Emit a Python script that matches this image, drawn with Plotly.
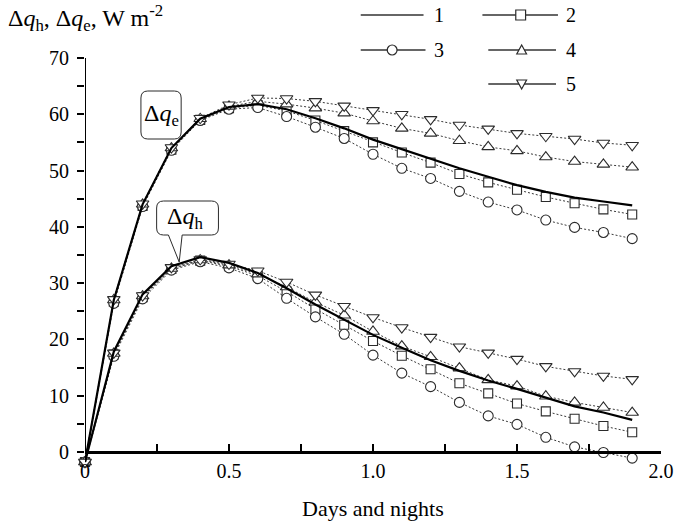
import plotly.graph_objects as go

# ---- data -------------------------------------------------------------
days = [0.0, 0.1, 0.2, 0.3, 0.4, 0.5, 0.6, 0.7, 0.8, 0.9,
        1.0, 1.1, 1.2, 1.3, 1.4, 1.5, 1.6, 1.7, 1.8, 1.9]

# latent heat flux increment, W m-2
qe_1 = [-1.8, 27.0, 44.0, 54.0, 59.2, 61.3, 61.8, 60.9, 59.3, 57.5,
        55.5, 53.8, 52.0, 50.4, 48.9, 47.4, 46.2, 45.2, 44.5, 43.8]
qe_2 = [-1.8, 26.7, 43.7, 53.7, 59.0, 61.1, 61.6, 60.6, 58.9, 57.0,
        55.0, 53.2, 51.4, 49.4, 47.9, 46.6, 45.3, 44.2, 43.1, 42.2]
qe_3 = [-1.8, 26.4, 43.6, 53.6, 58.9, 60.9, 61.2, 59.6, 57.7, 55.7,
        52.9, 50.4, 48.6, 46.3, 44.4, 43.0, 41.2, 39.9, 39.0, 37.9]
qe_4 = [-1.8, 27.0, 44.0, 54.0, 59.2, 61.4, 62.3, 61.8, 61.1, 60.2,
        58.8, 57.5, 56.6, 55.3, 54.2, 53.5, 52.4, 51.6, 51.1, 50.6]
qe_5 = [-1.8, 27.1, 44.1, 54.1, 59.3, 61.7, 62.9, 62.8, 62.3, 61.5,
        60.7, 60.0, 59.1, 58.1, 57.4, 56.6, 56.1, 55.6, 54.9, 54.5]

# sensible heat flux increment, W m-2
qh_1 = [-1.8, 17.8, 28.0, 33.0, 34.6, 33.6, 31.8, 29.1, 26.2, 23.5,
        20.8, 18.5, 16.3, 14.4, 12.7, 11.2, 9.6, 8.1, 7.0, 5.7]
qh_2 = [-1.8, 17.3, 27.5, 32.5, 34.0, 33.0, 31.3, 28.5, 25.4, 22.6,
        19.7, 17.1, 14.7, 12.2, 10.4, 8.6, 7.2, 5.9, 4.6, 3.5]
qh_3 = [-1.8, 17.0, 27.2, 32.3, 33.8, 32.7, 30.8, 27.3, 24.0, 20.9,
        17.2, 14.0, 11.6, 8.8, 6.4, 4.9, 2.6, 0.9, -0.1, -1.1]
qh_4 = [-1.8, 17.5, 27.7, 32.6, 34.1, 33.2, 31.6, 29.3, 26.6, 24.3,
        21.4, 18.8, 16.9, 14.9, 12.8, 11.7, 9.9, 8.8, 7.9, 7.0]
qh_5 = [-1.8, 17.6, 27.8, 32.8, 34.2, 33.4, 32.2, 30.2, 27.9, 25.9,
        23.9, 22.1, 20.4, 18.7, 17.6, 16.5, 15.2, 14.3, 13.5, 12.9]

x_tick_vals = [0, 0.5, 1.0, 1.5, 2.0]
x_tick_text = ["0", "0.5", "1.0", "1.5", "2.0"]
y_tick_vals = [0, 10, 20, 30, 40, 50, 60, 70]

# ---- layout geometry (pixels) ----------------------------------------
W, H = 686, 525
L, R, T, B = 85, 14, 58, 59
PW, PH = W - L - R, H - T - B
Y_MIN, Y_MAX = -2.5, 70

FONT = "'Liberation Serif', 'Times New Roman', 'DejaVu Serif', serif"
INK = "#2b2b2b"


def px(x):
    return (x - L) / PW


def py(y):
    return (H - B - y) / PH


# ---- traces -----------------------------------------------------------
fig = go.Figure()

marked = [
    ("2", qe_2, qh_2, "square", 9),
    ("3", qe_3, qh_3, "circle", 10),
    ("4", qe_4, qh_4, "triangle-up", 11),
    ("5", qe_5, qh_5, "triangle-down", 11),
]
for name, qe, qh, sym, size in marked:
    for vals in (qe, qh):
        fig.add_trace(go.Scatter(
            x=days, y=vals, mode="lines+markers", name=name,
            line=dict(color="#3a3a3a", width=1, dash="2px,2px"),
            marker=dict(symbol=sym, size=size, color="white",
                        line=dict(color=INK, width=1.1)),
            cliponaxis=False, showlegend=False,
        ))

for vals in (qe_1, qh_1):
    fig.add_trace(go.Scatter(
        x=days, y=vals, mode="lines", name="1",
        line=dict(color="black", width=2.2),
        cliponaxis=False, showlegend=False,
    ))

# ---- shapes: y axis line, callouts, legend ----------------------------
shapes = [dict(type="line", xref="x", yref="y", x0=0, x1=0, y0=0, y1=Y_MAX,
               line=dict(color="black", width=2))]


def callout(x0, y0, x1, y1, r, tail=None):
    pts = [f"M {px(x0 + r)},{py(y0)}",
           f"L {px(x1 - r)},{py(y0)}",
           f"Q {px(x1)},{py(y0)} {px(x1)},{py(y0 + r)}",
           f"L {px(x1)},{py(y1 - r)}",
           f"Q {px(x1)},{py(y1)} {px(x1 - r)},{py(y1)}"]
    if tail:
        (ta, tb, tx, ty) = tail
        pts += [f"L {px(tb)},{py(y1)}", f"L {px(tx)},{py(ty)}",
                f"L {px(ta)},{py(y1)}"]
    pts += [f"L {px(x0 + r)},{py(y1)}",
            f"Q {px(x0)},{py(y1)} {px(x0)},{py(y1 - r)}",
            f"L {px(x0)},{py(y0 + r)}",
            f"Q {px(x0)},{py(y0)} {px(x0 + r)},{py(y0)}", "Z"]
    return dict(type="path", xref="paper", yref="paper", path=" ".join(pts),
                fillcolor="white", line=dict(color=INK, width=1))


shapes.append(callout(142, 91, 183, 139, 7))
shapes.append(callout(158, 201, 221, 235, 7, tail=(170, 184, 181, 262)))


def leg_line(x0, x1, y):
    return dict(type="line", xref="paper", yref="paper",
                x0=px(x0), x1=px(x1), y0=py(y), y1=py(y),
                line=dict(color="#333333", width=1.6))


def leg_marker(kind, cx, cy, s):
    common = dict(xref="paper", yref="paper", fillcolor="white",
                  line=dict(color=INK, width=1.2))
    h = s / 2
    if kind == "square":
        return dict(type="rect", x0=px(cx - h), x1=px(cx + h),
                    y0=py(cy - h), y1=py(cy + h), **common)
    if kind == "circle":
        return dict(type="circle", x0=px(cx - h), x1=px(cx + h),
                    y0=py(cy - h), y1=py(cy + h), **common)
    if kind == "up":
        path = (f"M {px(cx)},{py(cy - h)} L {px(cx + h)},{py(cy + h * 0.8)} "
                f"L {px(cx - h)},{py(cy + h * 0.8)} Z")
    else:
        path = (f"M {px(cx)},{py(cy + h)} L {px(cx + h)},{py(cy - h * 0.8)} "
                f"L {px(cx - h)},{py(cy - h * 0.8)} Z")
    return dict(type="path", path=path, **common)


legend_rows = [
    # (line x0, line x1, y, marker kind, marker x, label, label x)
    (366, 430, 15, None, None, "1", 446),
    (490, 567, 15, "square", 529, "2", 580),
    (366, 432, 50, "circle", 398, "3", 446),
    (496, 565, 50, "up", 530, "4", 580),
    (496, 565, 84, "down", 530, "5", 580),
]
annotations = []
for x0, x1, y, kind, mx, label, lx in legend_rows:
    shapes.append(leg_line(x0, x1, y))
    if kind:
        shapes.append(leg_marker(kind, mx, y, 10))
    annotations.append(dict(xref="paper", yref="paper", x=px(lx), y=py(y),
                            text=label, showarrow=False, xanchor="center",
                            yanchor="middle",
                            font=dict(family=FONT, size=20, color="black")))

# ---- text -------------------------------------------------------------
annotations += [
    dict(xref="paper", yref="paper", x=px(4), y=py(18), xanchor="left",
         yanchor="middle", showarrow=False,
         text="Δ<i>q</i><sub>h</sub>, Δ<i>q</i><sub>e</sub>, W m<sup>-2</sup>",
         font=dict(family=FONT, size=24, color="black")),
    dict(xref="paper", yref="paper", x=px(162.5), y=py(115), xanchor="center",
         yanchor="middle", showarrow=False,
         text="Δ<i>q</i><sub>e</sub>",
         font=dict(family=FONT, size=24, color="black")),
    dict(xref="paper", yref="paper", x=px(187), y=py(218), xanchor="center",
         yanchor="middle", showarrow=False,
         text="Δ<i>q</i><sub>h</sub>",
         font=dict(family=FONT, size=24, color="black")),
    dict(xref="paper", yref="paper", x=px((L + W - R) / 2), y=py(508),
         xanchor="center", yanchor="middle", showarrow=False,
         text="Days and nights",
         font=dict(family=FONT, size=22, color="black")),
]

fig.update_layout(
    width=W, height=H,
    margin=dict(l=L, r=R, t=T, b=B, pad=0),
    paper_bgcolor="white", plot_bgcolor="white",
    font=dict(family=FONT, size=20, color="black"),
    shapes=shapes, annotations=annotations,
    xaxis=dict(range=[0, 2.0], anchor="free",
               position=(0 - Y_MIN) / (Y_MAX - Y_MIN),
               showline=True, linecolor="black", linewidth=2.5,
               showgrid=False, zeroline=False,
               ticks="inside", ticklen=7, tickwidth=1.5, tickcolor="black",
               tickvals=x_tick_vals, ticktext=x_tick_text,
               minor=dict(ticks="inside", ticklen=7, tickwidth=1.5,
                          tickcolor="black", dtick=0.25, tick0=0),
               tickfont=dict(family=FONT, size=20, color="black")),
    yaxis=dict(range=[Y_MIN, Y_MAX], showline=False, showgrid=False,
               zeroline=False,
               ticks="outside", ticklen=7, tickwidth=1.5, tickcolor="black",
               tickvals=y_tick_vals, ticklabelstandoff=4,
               minor=dict(ticks="outside", ticklen=7, tickwidth=1.5,
                          tickcolor="black", dtick=5, tick0=0),
               tickfont=dict(family=FONT, size=20, color="black")),
    showlegend=False,
)

fig.write_html("out.html")
